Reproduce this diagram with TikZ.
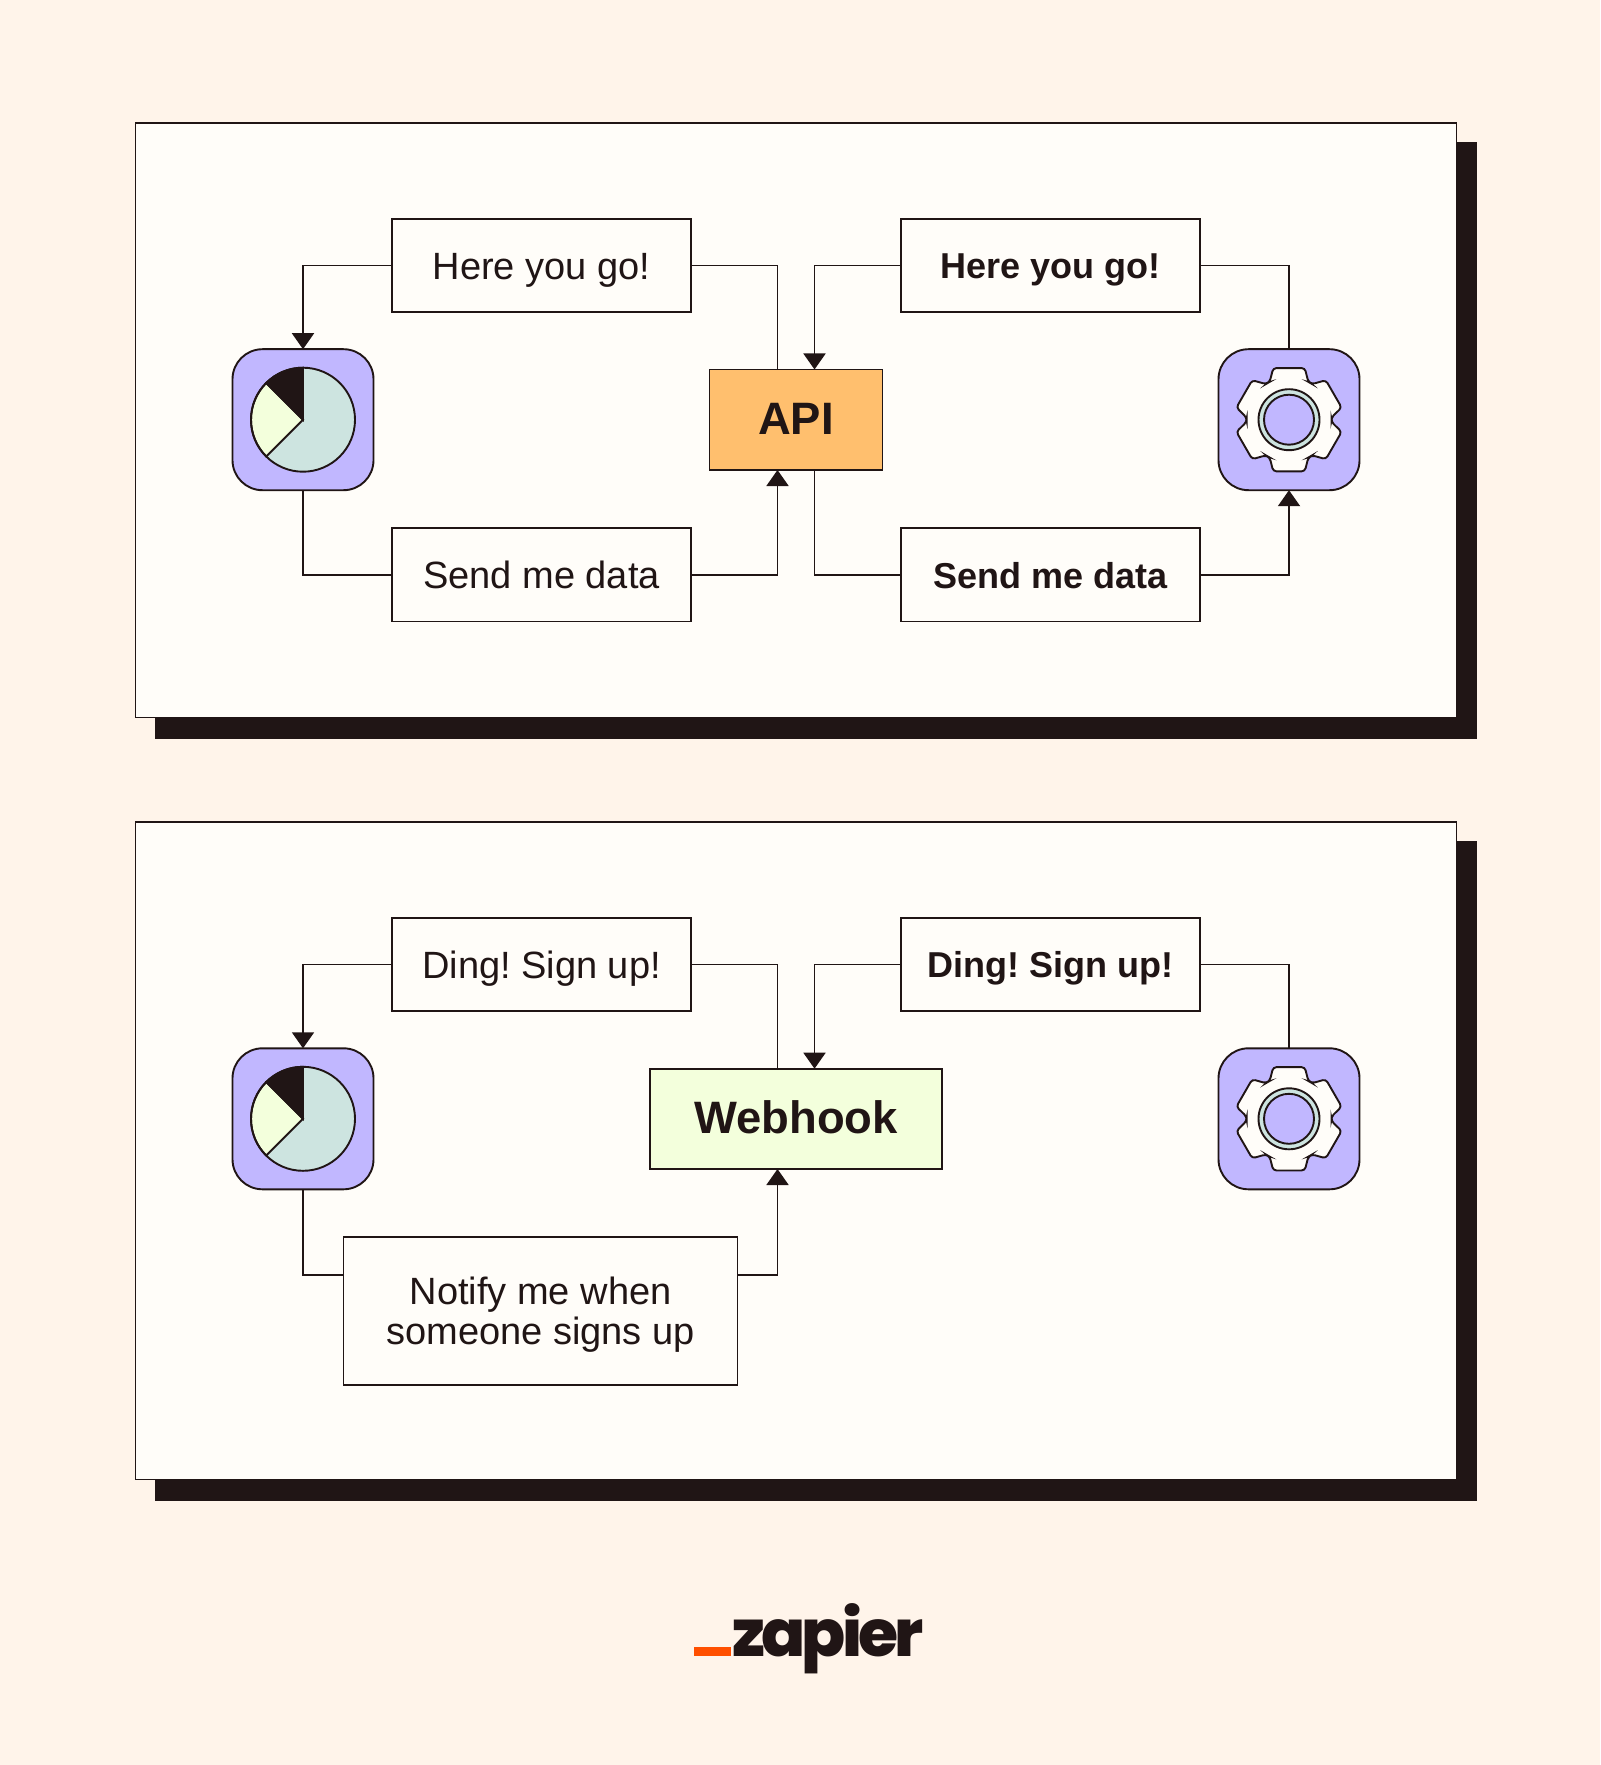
\documentclass[tikz,border=0pt]{standalone}
\usepackage{fontspec}
\setmainfont{Liberation Sans}
\newfontfamily\logofont[LetterSpace=-6,BoldFont={Poppins ExtraBold}]{Poppins}
\usetikzlibrary{arrows.meta}
\definecolor{ink}{HTML}{201515}
\definecolor{bgc}{HTML}{FFF4EA}
\definecolor{paper}{HTML}{FFFDF9}
\definecolor{lav}{HTML}{C1B7FF}
\definecolor{teal}{HTML}{CDE4E0}
\definecolor{lime}{HTML}{F3FFDC}
\definecolor{amber}{HTML}{FFBF6E}
\definecolor{zorange}{HTML}{FF4F00}
\tikzset{
  x=0.5pt,y=-0.5pt,
  panelbox/.style={draw=ink,fill=paper},
  shadowbox/.style={fill=ink},
  iconbox/.style={draw=ink,fill=lav,rounded corners=15pt,minimum width=70.5pt,minimum height=70.5pt,inner sep=0pt,outer sep=0pt},
  framebox/.style={draw=ink,fill=paper,text=ink,minimum width=149.7pt,minimum height=46.7pt,inner sep=0pt,outer sep=0pt,align=center},
  msgbox/.style={framebox,text height=14pt,text depth=0pt,font=\fontsize{19}{20}\selectfont},
  boldmsg/.style={framebox,text height=13.4pt,text depth=0pt,font=\fontsize{18}{20}\selectfont\bfseries},
  hubbox/.style={draw=ink,text=ink,minimum height=50.2pt,inner sep=0pt,outer sep=0pt,text height=15pt,text depth=0pt,font=\fontsize{22.7}{24}\selectfont\bfseries},
  link/.style={draw=ink},
  linkarrow/.style={draw=ink,-{Triangle[width=11pt,length=8pt]}},
}
\frenchspacing
\newcommand\pieicon[3]{%
  \node[iconbox] (#1) at (#2,#3) {};
  \begin{scope}[shift={(#2,#3)}]
    \fill[teal] (0,0) circle (52);
    \filldraw[draw=ink,fill=lime] (0,0) -- (-135:52) arc (-135:-225:52) -- cycle;
    \filldraw[draw=ink,fill=ink] (0,0) -- (-90:52) arc (-90:-135:52) -- cycle;
    \draw[ink] (0,0) circle (52);
  \end{scope}}
\newcommand\gearicon[3]{%
  \node[iconbox] (#1) at (#2,#3) {};
  \begin{scope}[shift={(#2,#3)}]
    \filldraw[draw=ink,fill=paper,rounded corners=1.6pt]
      (117:42.5) -- (107:54) -- (73:54) -- (63:42.5)
      -- (57:42.5) -- (47:54) -- (13:54) -- (3:42.5)
      -- (-3:42.5) -- (-13:54) -- (-47:54) -- (-57:42.5)
      -- (-63:42.5) -- (-73:54) -- (-107:54) -- (-117:42.5)
      -- (-123:42.5) -- (-133:54) -- (-167:54) -- (-177:42.5)
      -- (177:42.5) -- (167:54) -- (133:54) -- (123:42.5) -- cycle;
    \filldraw[draw=ink,fill=teal] (0,0) circle (30.5);
    \filldraw[draw=ink,fill=lav] (0,0) circle (25);
  \end{scope}}
\begin{document}
\begin{tikzpicture}[line width=0.95pt]
\useasboundingbox (0,0) rectangle (1600,1765);
\fill[bgc] (0,0) rectangle (1600,1765);
% panels
\fill[shadowbox] (155,142) rectangle (1477,739);
\draw[panelbox] (135.5,122.7) rectangle (1456.5,717.5);
\fill[shadowbox] (155,841) rectangle (1477,1501);
\draw[panelbox] (135.5,822) rectangle (1456.5,1479.5);
% top panel
\pieicon{pieA}{303}{419.7}
\gearicon{gearA}{1289}{419.7}
\node[hubbox,fill=amber,minimum width=86.5pt] (api) at (796,419.7) {API};
\node[msgbox] (hl) at (541.5,265.5) {Here you go!};
\node[boldmsg] (hr) at (1050.3,265.5) {Here you go!};
\node[msgbox,text height=13.4pt] (sl) at (541.5,574.8) {Send me data};
\node[boldmsg] (sr) at (1050.3,574.8) {Send me data};
\coordinate (apiTL) at (777.5,369.5);
\coordinate (apiTR) at (814.5,369.5);
\coordinate (apiBL) at (777.5,470);
\coordinate (apiBR) at (814.5,470);
\draw[link] (hl.east) -| (apiTL);
\draw[linkarrow] (hl.west) -| (pieA.north);
\draw[linkarrow] (hr.west) -| (apiTR);
\draw[link] (hr.east) -| (gearA.north);
\draw[link] (pieA.south) |- (sl.west);
\draw[linkarrow] (sl.east) -| (apiBL);
\draw[link] (apiBR) |- (sr.west);
\draw[linkarrow] (sr.east) -| (gearA.south);
% bottom panel
\pieicon{pieB}{303}{1118.8}
\gearicon{gearB}{1289}{1118.8}
\node[hubbox,fill=lime,minimum width=146.4pt] (hook) at (796,1118.8) {Webhook};
\node[msgbox] (dl) at (541.5,964.5) {Ding! Sign up!};
\node[boldmsg] (dr) at (1050.3,964.5) {Ding! Sign up!};
\node[framebox,minimum width=197pt,minimum height=73.6pt,font=\fontsize{19}{20}\selectfont] (ny) at (540.5,1311) {\rule{0pt}{17pt}Notify me when\\someone signs up};
\coordinate (hookTL) at (777.5,1068.7);
\coordinate (hookTR) at (814.5,1068.7);
\coordinate (hookB) at (777.5,1169);
\coordinate (nyL) at (343.4,1274.6);
\coordinate (nyR) at (737.5,1274.6);
\draw[link] (dl.east) -| (hookTL);
\draw[linkarrow] (dl.west) -| (pieB.north);
\draw[linkarrow] (dr.west) -| (hookTR);
\draw[link] (dr.east) -| (gearB.north);
\draw[link] (pieB.south) |- (nyL);
\draw[linkarrow] (nyR) -| (hookB);
% logo
\fill[zorange] (693.7,1646.7) rectangle (731,1656);
\node[anchor=base west,inner sep=0pt,text=ink,font=\fontsize{32.5}{38}\logofont\bfseries] (logo) at (731.5,1656) {zapier};
\end{tikzpicture}
\end{document}
